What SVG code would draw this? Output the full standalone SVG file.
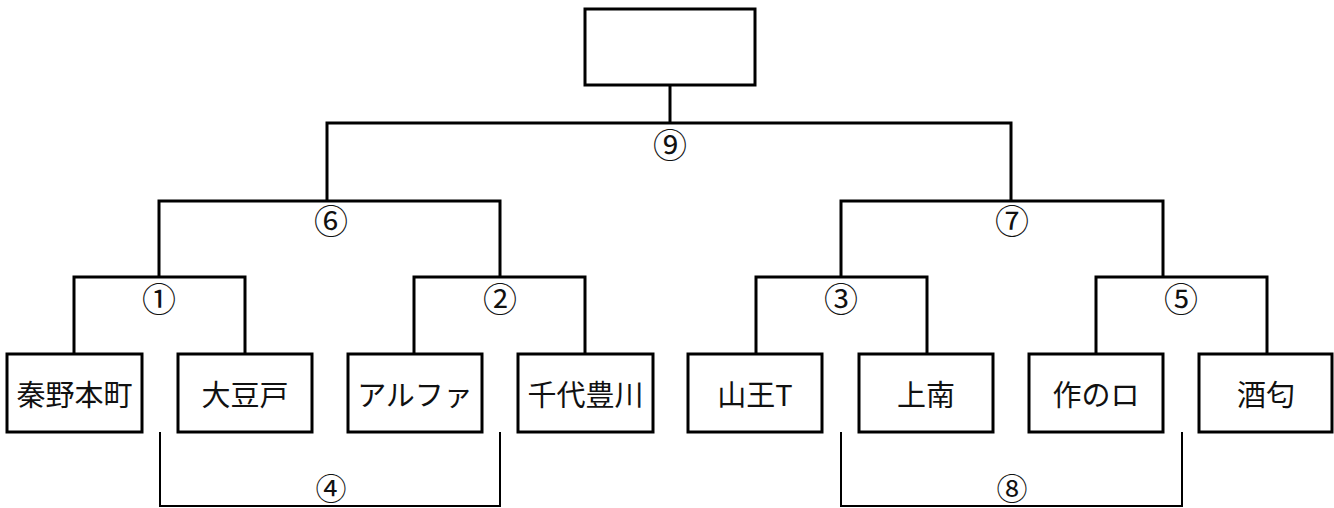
<svg xmlns="http://www.w3.org/2000/svg" width="1334" height="508" viewBox="0 0 1334 508">
<style>
.box{fill:#fff;stroke:#000;stroke-width:3}
.ln{fill:none;stroke:#000;stroke-width:3}
.br{fill:none;stroke:#000;stroke-width:2}
.t{font-family:"Noto Sans CJK JP","Liberation Sans",sans-serif;font-size:29px;text-anchor:middle;dominant-baseline:central;fill:#111}
.n{font-family:"Noto Sans CJK JP","Liberation Sans",sans-serif;font-size:34px;text-anchor:middle;dominant-baseline:central;fill:#111}
.nb{font-size:31px}
</style>
<rect width="1334" height="508" fill="#fff"/>
<g id="connectors">
<path class="ln" d="M670 85V123"/>
<path class="ln" d="M327 201V123H1011V201"/>
<path class="ln" d="M159 277V201H500V277"/>
<path class="ln" d="M841 277V201H1163V277"/>
<path class="ln" d="M74 354V277H245V354"/>
<path class="ln" d="M414 354V277H585V354"/>
<path class="ln" d="M756 354V277H927V354"/>
<path class="ln" d="M1096 354V277H1267V354"/>
<path class="br" d="M160 432V506H500V432"/>
<path class="br" d="M841 432V506H1182V432"/>
<text class="n" x="670" y="143">⑨</text>
<text class="n" x="331" y="219">⑥</text>
<text class="n" x="1012" y="219">⑦</text>
<text class="n" x="159" y="297">①</text>
<text class="n" x="500" y="297">②</text>
<text class="n" x="841" y="297">③</text>
<text class="n" x="1181" y="297">⑤</text>
<text class="n nb" x="331" y="486">④</text>
<text class="n nb" x="1012" y="486">⑧</text>
</g>
<g id="top"><rect class="box" x="585" y="9" width="170" height="76"/></g>
<g id="n1"><rect class="box" x="7" y="354" width="135" height="78"/><text class="t" x="74.5" y="393">秦野本町</text></g>
<g id="n2"><rect class="box" x="178" y="354" width="134" height="78"/><text class="t" x="245" y="393">大豆戸</text></g>
<g id="n3"><rect class="box" x="348" y="354" width="134" height="78"/><text class="t" x="415" y="393">アルファ</text></g>
<g id="n4"><rect class="box" x="518" y="354" width="135" height="78"/><text class="t" x="585.5" y="393">千代豊川</text></g>
<g id="n5"><rect class="box" x="688" y="354" width="134" height="78"/><text class="t" x="755" y="393">山王T</text></g>
<g id="n6"><rect class="box" x="859" y="354" width="134" height="78"/><text class="t" x="926" y="393">上南</text></g>
<g id="n7"><rect class="box" x="1029" y="354" width="134" height="78"/><text class="t" x="1096" y="393">作のロ</text></g>
<g id="n8"><rect class="box" x="1199" y="354" width="133" height="78"/><text class="t" x="1266" y="393">酒匂</text></g>
</svg>
